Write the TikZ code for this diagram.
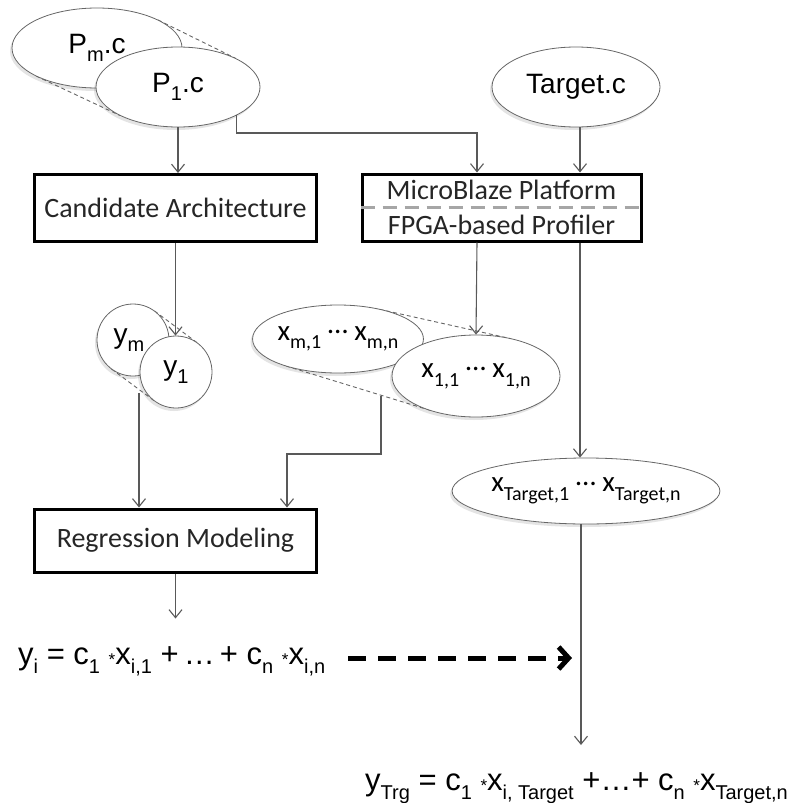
\documentclass[tikz,border=0pt]{standalone}
\usepackage{fontspec}
\setmainfont{Liberation Sans}
\newfontfamily\calfont{Carlito}
\usetikzlibrary{arrows.meta,shadows,shapes.geometric}
\newcommand\smst{\raisebox{-0.05em}{\fontsize{17}{17}\selectfont *}}
\newcommand\sbs[1]{\raisebox{-0.3em}{\fontsize{20}{20}\selectfont #1}}
\newcommand\cdd{\raisebox{0.22em}{…}}
\begin{document}
\begin{tikzpicture}[x=1pt,y=-1pt,
  ell/.style={ellipse, draw=black!60, fill=white, line width=0.8pt, inner sep=0pt,
    drop shadow={shadow xshift=-2pt, shadow yshift=-3pt, opacity=0.15, fill=black!70}},
  circ/.style={circle, draw=black!60, fill=white, line width=0.8pt, inner sep=0pt, minimum size=72pt,
    drop shadow={shadow xshift=-2pt, shadow yshift=-3pt, opacity=0.15, fill=black!70}},
  sfont/.style={font=\fontsize{28}{32}\selectfont},
  cfont/.style={font=\calfont\fontsize{29}{32}\selectfont},
  box/.style={rectangle, draw=black, line width=3pt, fill=white, inner sep=0pt,
    font=\calfont\fontsize{28}{35}\selectfont, text=black!85},
  tang/.style={draw=black!60, line width=0.9pt, dash pattern=on 4pt off 3pt},
  conn/.style={draw=black!65, line width=1.1pt},
  arr/.style={conn, -{Straight Barb[length=8pt,width=13pt]}},
  bigarr/.style={draw=black, line width=5pt, dash pattern=on 18pt off 12pt,
    -{Straight Barb[length=10pt,width=22pt,line width=5pt]}},
  eqfont/.style={font=\fontsize{31}{36}\selectfont, inner sep=0pt}
]
\useasboundingbox (0,0) rectangle (797,803);

% tangent dashes behind the stacked shapes
\draw[tang] (158,20) -- (236,58.5);
\draw[tang] (36,76) -- (120,115.5);
\draw[tang] (111.5,369) -- (154.5,401);
\draw[tang] (154.5,311) -- (197.5,343);
\draw[tang] (379.5,309.3) -- (511,338.7);
\draw[tang] (286,366) -- (431,410.6);

% source files
\node[ell, sfont, minimum width=170pt, minimum height=80pt] (pm) at (97,48) {P\sbs{m}.c};
\node[ell, sfont, minimum width=164pt, minimum height=80pt] (p1) at (178,87) {P\sbs{1}.c};
\node[ell, sfont, minimum width=168pt, minimum height=80pt] (tg) at (576,87) {Target.c};

% boxes
\node[box, minimum width=282pt, minimum height=67pt] (ca) at (175.5,208) {Candidate Architecture};
\node[box, minimum width=279pt, minimum height=67pt, align=center] (mb) at (501.5,207.5)
  {MicroBlaze Platform\\FPGA-based Profiler};
\draw[draw=black!35, line width=3pt, dash pattern=on 14pt off 8pt] (mb.west) -- (mb.east);
\node[box, minimum width=282pt, minimum height=63pt] (rm) at (175.5,540.5) {Regression Modeling};

% results
\node[circ, sfont] (ym) at (133,340) {y\sbs{m}\hspace*{8pt}};
\node[circ, sfont] (y1) at (176,372) {y\sbs{1}};
\node[ell, cfont, minimum width=170pt, minimum height=68pt] (xm) at (338,339)
  {x\sbs{m,1} \cdd{} x\sbs{m,n}};
\node[ell, cfont, minimum width=168pt, minimum height=82pt] (x1) at (476,376)
  {x\sbs{1,1} \cdd{} x\sbs{1,n}};
\node[ell, cfont, minimum width=222pt, minimum height=66pt] (xt) at (586,491)
  {x\sbs{Target,1} \cdd{} x\sbs{Target,n}};

% equations
\node[eqfont, anchor=base west] (eq1) at (18,664)
  {y\sbs{i} = c\sbs{1} \smst x\sbs{i,1} +\,…\,+ c\sbs{n} \smst x\sbs{i,n}};
\node[eqfont, anchor=base west] (eq2) at (365,790)
  {y\sbs{Trg} = c\sbs{1} \smst x\sbs{i, Target} +…+ c\sbs{n} \smst x\sbs{Target,n}};

% helper coordinates
\coordinate (k1) at (477,133);
\coordinate (ys) at (139,393);
\coordinate (xs) at (381,395.5);
\coordinate (k2) at (287,454);
\coordinate (da) at (348,658);
\coordinate (db) at (572,658);
\coordinate (te) at (581,745);

% connectors
\draw[arr] (p1.south) -- (p1.south |- ca.north);
\draw[arr] (p1.-26) |- (k1) -- (k1 |- mb.north);
\draw[arr] (tg.south -| 580,0) -- (580,0 |- mb.north);
\draw[arr] (ca.south) -- (ca.south |- y1.north);
\draw[arr] (k1 |- mb.south) -- (x1.north);
\draw[arr] (580,0 |- mb.south) -- (580,0 |- xt.north);
\draw[arr] (ys) -- (ys |- rm.north);
\draw[arr] (xs) |- (k2) -- (k2 |- rm.north);
\draw[arr] (rm.south) -- ++(0,45);
\draw[arr] (xt.south -| te) -- (te);
\draw[bigarr] (da) -- (db);
\end{tikzpicture}
\end{document}
